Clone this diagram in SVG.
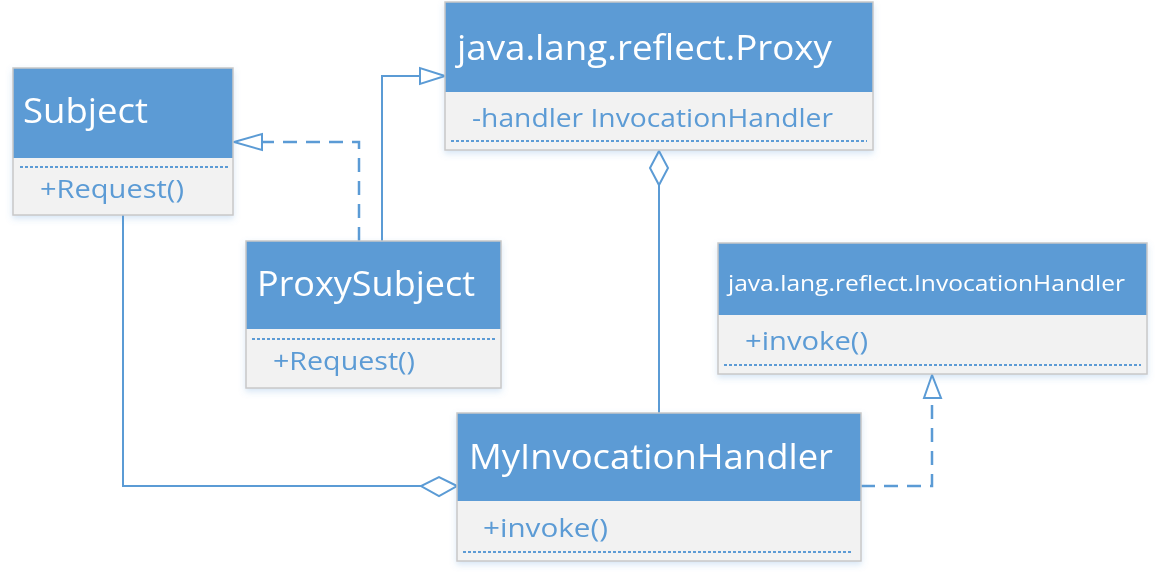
<svg xmlns="http://www.w3.org/2000/svg" width="1157" height="574" viewBox="0 0 1157 574">
<defs>
<style>
.hdr{fill:#5B9BD5;}
.body{fill:#F2F2F2;}
.frame{fill:none;stroke:#C8C8C8;stroke-width:1.5;}
.sep{stroke:#5B9BD5;stroke-width:2;stroke-dasharray:3 2;}
.title{font-family:"Open Sans","Noto Sans",sans-serif;fill:#FFFFFF;}
.mem{font-family:"Open Sans","Noto Sans",sans-serif;fill:#5B9BD5;font-size:26px;}
.line{fill:none;stroke:#5B9BD5;stroke-width:2;}
.dash{fill:none;stroke:#5B9BD5;stroke-width:2.5;stroke-dasharray:14 9;}
.head{fill:#FFFFFF;stroke:#5B9BD5;stroke-width:2;}
</style>
<filter id="sh" x="-10%" y="-10%" width="120%" height="130%">
<feDropShadow dx="0" dy="3" stdDeviation="3" flood-color="#5B9BD5" flood-opacity="0.25"/>
</filter>
</defs>
<rect width="1157" height="574" fill="#FFFFFF"/>

<g id="connectors">
<!-- ProxySubject realizes Subject -->
<polyline class="dash" points="359,241 359,142 262,142"/>
<polygon class="head" points="234,142 262,134 262,150"/>
<!-- ProxySubject extends Proxy -->
<polyline class="line" points="382,241 382,76 420,76"/>
<polygon class="head" points="445,76 420,68 420,84"/>
<!-- Proxy aggregates MyInvocationHandler -->
<line class="line" x1="659" y1="185" x2="659" y2="413"/>
<polygon class="head" points="659,151 668,168 659,185 650,168"/>
<!-- Subject to MyInvocationHandler aggregation -->
<polyline class="line" points="123,215 123,486 421,486"/>
<polygon class="head" points="457,486 439,477 421,486 439,496"/>
<!-- MyInvocationHandler realizes InvocationHandler -->
<polyline class="dash" points="861,486 932,486 932,398"/>
<polygon class="head" points="932,375 924,398 941,398"/>
</g>

<g id="subject" filter="url(#sh)">
<rect class="hdr" x="13" y="68" width="220" height="90"/>
<rect class="body" x="13" y="158" width="220" height="57"/>
<rect class="frame" x="13" y="68" width="220" height="147"/>
<line class="sep" x1="20" y1="167" x2="228" y2="167"/>
<text class="title" x="23" y="123" font-size="34" textLength="125" lengthAdjust="spacingAndGlyphs">Subject</text>
<text class="mem" x="40" y="198" textLength="144" lengthAdjust="spacingAndGlyphs">+Request()</text>
</g>

<g id="proxySubject" filter="url(#sh)">
<rect class="hdr" x="246" y="241" width="255" height="88"/>
<rect class="body" x="246" y="329" width="255" height="59"/>
<rect class="frame" x="246" y="241" width="255" height="147"/>
<line class="sep" x1="252" y1="339" x2="495" y2="339"/>
<text class="title" x="257" y="296" font-size="34" textLength="218" lengthAdjust="spacingAndGlyphs">ProxySubject</text>
<text class="mem" x="273" y="370" textLength="142" lengthAdjust="spacingAndGlyphs">+Request()</text>
</g>

<g id="proxy" filter="url(#sh)">
<rect class="hdr" x="445" y="2" width="428" height="90"/>
<rect class="body" x="445" y="92" width="428" height="58"/>
<rect class="frame" x="445" y="2" width="428" height="148"/>
<line class="sep" x1="451" y1="141" x2="867" y2="141"/>
<text class="title" x="457" y="60" font-size="34" textLength="375" lengthAdjust="spacingAndGlyphs">java.lang.reflect.Proxy</text>
<text class="mem" x="472" y="127" textLength="361" lengthAdjust="spacingAndGlyphs">-handler InvocationHandler</text>
</g>

<g id="invocationHandler" filter="url(#sh)">
<rect class="hdr" x="718" y="243" width="429" height="72"/>
<rect class="body" x="718" y="315" width="429" height="59"/>
<rect class="frame" x="718" y="243" width="429" height="131"/>
<line class="sep" x1="724" y1="365" x2="1141" y2="365"/>
<text class="title" x="728" y="291" font-size="22" textLength="397" lengthAdjust="spacingAndGlyphs">java.lang.reflect.InvocationHandler</text>
<text class="mem" x="745" y="350" textLength="123" lengthAdjust="spacingAndGlyphs">+invoke()</text>
</g>

<g id="myInvocationHandler" filter="url(#sh)">
<rect class="hdr" x="457" y="413" width="404" height="88"/>
<rect class="body" x="457" y="501" width="404" height="60"/>
<rect class="frame" x="457" y="413" width="404" height="148"/>
<line class="sep" x1="463" y1="552" x2="853" y2="552"/>
<text class="title" x="469" y="469" font-size="34" textLength="364" lengthAdjust="spacingAndGlyphs">MyInvocationHandler</text>
<text class="mem" x="483" y="537" textLength="125" lengthAdjust="spacingAndGlyphs">+invoke()</text>
</g>
</svg>
